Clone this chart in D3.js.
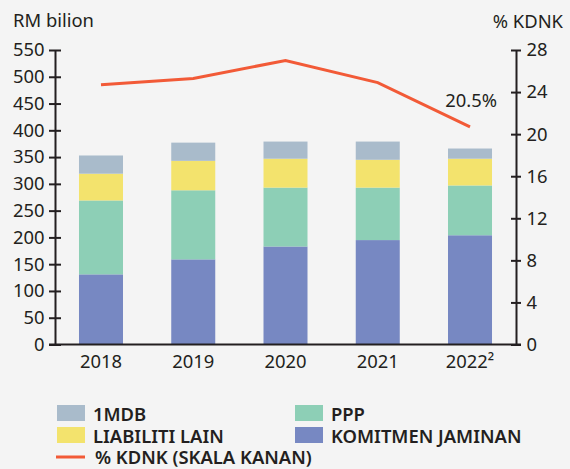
<!DOCTYPE html>
<html>
<head>
    <script src="https://d3js.org/d3.v7.min.js"></script>
    <style>
        body { margin: 0; background: #f4f4f4; }
        svg { font-family: "Noto Sans", "Open Sans", sans-serif; }
    </style>
</head>
<body>
    <svg width="570" height="469"></svg>
    <script>
        var years = ["2018", "2019", "2020", "2021", "2022"];
        var komitmen = [131, 159, 183, 195, 204];
        var ppp = [138, 129, 110, 98, 93];
        var liabiliti = [50, 55, 54, 52, 50];
        var mdb = [34, 34, 32, 34, 19];
        var kdnk = [24.7, 25.3, 27.0, 24.9, 20.7];
        var leftTicks = [0, 50, 100, 150, 200, 250, 300, 350, 400, 450, 500, 550];
        var rightTicks = [0, 4, 8, 12, 16, 20, 24, 28];

        var seriesKeys = ["komitmen", "ppp", "liabiliti", "mdb"];
        var colors = {mdb: "#a9bbcb", liabiliti: "#f3e36d", ppp: "#8dcfb6", komitmen: "#7788c2"};
        var lineColor = "#f25a37";
        var ink = "#231f20";
        var fs = "18.4px";

        var rows = years.map(function(yr, i) {
            return {year: yr, komitmen: komitmen[i], ppp: ppp[i], liabiliti: liabiliti[i], mdb: mdb[i]};
        });

        var svg = d3.select("svg");
        var plotL = 55, plotR = 516, plotT = 50, plotB = 344.5;

        var x = d3.scaleBand().domain(years).range([plotL, plotR]).paddingInner(0.523).paddingOuter(0.26);
        var y = d3.scaleLinear().domain([0, 550]).range([plotB, plotT]);
        var y2 = d3.scaleLinear().domain([0, 28]).range([plotB, plotT]);

        var stack = d3.stack().keys(seriesKeys)(rows);

        svg.append("g").selectAll("g").data(stack).enter().append("g")
            .attr("fill", function(d) { return colors[d.key]; })
            .selectAll("rect").data(function(d) { return d; }).enter().append("rect")
            .attr("x", function(d) { return x(d.data.year); })
            .attr("width", x.bandwidth())
            .attr("y", function(d) { return y(d[1]); })
            .attr("height", function(d) { return y(d[0]) - y(d[1]); });

        // axes
        var leftAxis = d3.axisLeft(y).tickValues(leftTicks).tickSizeInner(6).tickSizeOuter(0);
        var gl = svg.append("g").attr("transform", "translate(" + plotL + ",0)").call(leftAxis);
        var rightAxis = d3.axisRight(y2).tickValues(rightTicks).tickSizeInner(5).tickSizeOuter(0);
        var gr = svg.append("g").attr("transform", "translate(" + plotR + ",0)").call(rightAxis);

        [gl, gr].forEach(function(g) {
            g.select(".domain").attr("stroke", ink).attr("stroke-width", 2);
            g.selectAll(".tick line").attr("stroke", ink).attr("stroke-width", 2);
            g.selectAll(".tick text").attr("fill", ink).style("font-size", fs)
                .style("font-family", "'Noto Sans', 'Open Sans', sans-serif");
        });
        gl.selectAll(".tick line").attr("x1", -6).attr("x2", 6);
        gr.selectAll(".tick line").attr("x1", -5).attr("x2", 5);
        gl.selectAll(".tick text").attr("x", -10.5);
        gr.selectAll(".tick text").attr("x", 10.5);

        var xAxis = d3.axisBottom(x).tickSize(0).tickPadding(10)
            .tickFormat(function(d) { return d === "2022" ? "2022\u00b2" : d; });
        var gx = svg.append("g").attr("transform", "translate(0," + plotB + ")").call(xAxis);
        gx.select(".domain").attr("stroke", ink).attr("stroke-width", 2).attr("d", "M" + (plotL - 6) + ",0H" + (plotR + 5));
        gx.selectAll(".tick text").attr("fill", ink).style("font-size", fs)
            .style("font-family", "'Noto Sans', 'Open Sans', sans-serif");

        // line
        var line = d3.line()
            .x(function(d, i) { return x(years[i]) + x.bandwidth() / 2; })
            .y(function(d) { return y2(d); });
        svg.append("path").datum(kdnk)
            .attr("fill", "none").attr("stroke", lineColor).attr("stroke-width", 3)
            .attr("d", line);

        svg.append("text").attr("x", 497).attr("y", 107)
            .attr("text-anchor", "end").attr("fill", ink).style("font-size", fs).text("20.5%");

        // axis titles
        svg.append("text").attr("x", 13).attr("y", 27).attr("fill", ink).style("font-size", fs).text("RM bilion");
        svg.append("text").attr("x", 563).attr("y", 28).attr("text-anchor", "end").attr("fill", ink)
            .style("font-size", fs).text("% KDNK");

        // legend
        var legend = [
            {key: "mdb", label: "1MDB", col: 0, row: 0},
            {key: "ppp", label: "PPP", col: 1, row: 0},
            {key: "liabiliti", label: "LIABILITI LAIN", col: 0, row: 1},
            {key: "komitmen", label: "KOMITMEN JAMINAN", col: 1, row: 1}
        ];
        var colX = [57, 295], rowY = [405, 427];
        var lg = svg.append("g");
        legend.forEach(function(d) {
            lg.append("rect").attr("x", colX[d.col]).attr("y", rowY[d.row])
                .attr("width", 28).attr("height", 16).attr("fill", colors[d.key]);
            lg.append("text").attr("x", colX[d.col] + 36).attr("y", rowY[d.row] + 15.5)
                .attr("fill", ink).style("font-size", fs).style("font-weight", 600).text(d.label);
        });
        lg.append("line").attr("x1", 56).attr("x2", 85).attr("y1", 457).attr("y2", 457)
            .attr("stroke", lineColor).attr("stroke-width", 3);
        lg.append("text").attr("x", 95).attr("y", 464).attr("fill", ink)
            .style("font-size", fs).style("font-weight", 600).text("% KDNK (SKALA KANAN)");
    </script>
</body>
</html>
